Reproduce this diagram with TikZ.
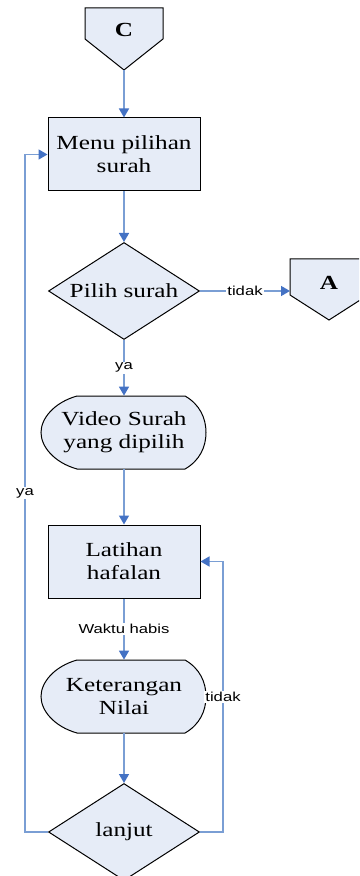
\documentclass[tikz,border=0pt]{standalone}
\usepackage{fontspec}
\setmainfont{Liberation Serif}[FakeStretch=1.26]
\newfontfamily\lblfont{Liberation Sans}[FakeStretch=1.28]
\usepackage{tikz}
\usetikzlibrary{shapes.geometric,arrows.meta}

\definecolor{shapefill}{RGB}{230,236,247}
\definecolor{lineblue}{RGB}{122,158,212}
\definecolor{tipblue}{RGB}{68,114,196}

\begin{document}
\begin{tikzpicture}[x=0.5pt,y=-0.5pt,
    outline/.style={draw=black,line width=0.5pt,fill=shapefill},
    box/.style={outline,rectangle,minimum width=76pt,minimum height=36.5pt,
      align=center,font=\fontsize{10}{11.5}\selectfont},
    decision/.style={outline,diamond,shape aspect=1.55,minimum width=75.5pt,
      minimum height=48.5pt,inner sep=0pt,font=\fontsize{10}{11.5}\selectfont},
    disptext/.style={minimum width=82.5pt,minimum height=36.5pt,align=center,
      font=\fontsize{10}{11.5}\selectfont},
    flow/.style={draw=lineblue,line width=0.8pt,-{Triangle[color=tipblue,width=5pt,length=4.5pt]}},
    lbl/.style={fill=white,inner sep=0.6pt,font=\lblfont\fontsize{6.5}{7}\selectfont}]
  \clip (0,0) rectangle (359,876);

  % off-page connectors
  \draw[outline] (85,8) -- (163,8) -- (163,39) -- (124,70) -- (85,39) -- cycle;
  \draw[outline] (290,259) -- (368,259) -- (368,295) -- (329,320) -- (290,295) -- cycle;
  \node[font=\bfseries\fontsize{10}{11.5}\selectfont] (C) at (124,30) {C};
  \node[font=\bfseries\fontsize{10}{11.5}\selectfont] (A) at (329,283) {A};
  \coordinate (Ctip) at (124,70);
  \coordinate (Aleft) at (290,291);

  % display shapes
  \foreach \cy in {432.5,696.5}
    \draw[outline,shift={(124,\cy)}] (-47,-36.5) -- (61,-36.5)
      .. controls (76,-28) and (82,-14) .. (82,0)
      .. controls (82,14) and (76,28) .. (61,36.5) -- (-47,36.5)
      .. controls (-70,30) and (-83,14) .. (-83,0)
      .. controls (-83,-14) and (-70,-30) .. (-47,-36.5) -- cycle;

  \node[box] (menu) at (124,154.5) {Menu pilihan\\surah};
  \node[decision] (pilih) at (124,291) {Pilih surah};
  \node[disptext] (video) at (124,432.5) {Video Surah\\yang dipilih};
  \node[box] (latihan) at (124,561.5) {Latihan\\hafalan};
  \node[disptext] (ket) at (124,696.5) {Keterangan\\Nilai};
  \node[decision] (lanjut) at (124,832) {lanjut};

  % connectors
  \draw[flow] (Ctip) -- (menu);
  \draw[flow] (menu) -- (pilih);
  \draw[flow] (pilih.east) -- node[lbl]{tidak} (Aleft);
  \draw[flow] (pilih) -- node[lbl]{ya} (video);
  \draw[flow] (video) -- (latihan);
  \draw[flow] (latihan) -- node[lbl]{Waktu habis} (ket);
  \draw[flow] (ket) -- (lanjut);
  \draw[flow] (lanjut.west) -- ++(-23,0) |- node[lbl,pos=0.25]{ya} (menu.west);
  \draw[flow] (lanjut.east) -- ++(23,0) |- node[lbl,pos=0.25]{tidak} (latihan.east);
\end{tikzpicture}
\end{document}
